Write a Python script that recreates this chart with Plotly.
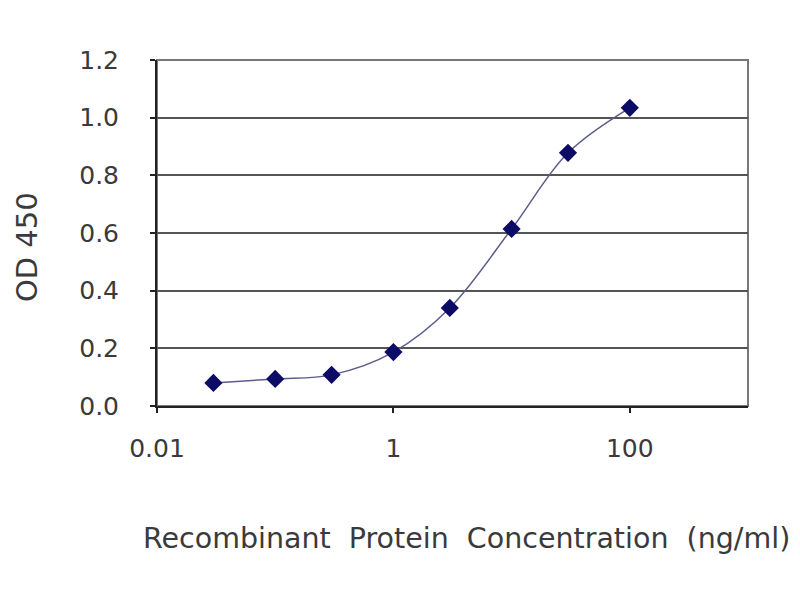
import plotly.graph_objects as go

concentration = [0.03, 0.1, 0.3, 1, 3, 10, 30, 100]
od450 = [0.080, 0.094, 0.108, 0.187, 0.340, 0.614, 0.878, 1.034]

x_tickvals = [0.01, 1, 100]
x_ticktext = ["0.01", "1", "100"]
y_tickvals = [0.0, 0.2, 0.4, 0.6, 0.8, 1.0, 1.2]
y_ticktext = ["0.0", "0.2", "0.4", "0.6", "0.8", "1.0", "1.2"]

x_title = "Recombinant  Protein  Concentration  (ng/ml)"
y_title = "OD 450"

FONT = "DejaVu Sans"
TICK_COLOR = "#3a3a3a"

# plot area target: x 157..748, y 60..406
L, T, W, H = 149, 52, 591, 346

fig = go.Figure()
fig.add_trace(go.Scatter(
    x=concentration, y=od450,
    mode="lines+markers",
    line=dict(color="#5c5c8c", width=1.5, shape="spline", smoothing=1.0),
    marker=dict(symbol="diamond", size=14, color="#0c0c66",
                line=dict(width=0)),
    showlegend=False,
))

fig.update_layout(
    width=800, height=600,
    margin=dict(l=L, r=800 - L - W, t=T, b=600 - T - H),
    paper_bgcolor="white", plot_bgcolor="white",
    font=dict(family=FONT, color=TICK_COLOR),
    xaxis=dict(
        type="log", range=[-2, 3],
        tickvals=x_tickvals, ticktext=x_ticktext,
        showgrid=False, zeroline=False,
        showline=True, linecolor="#222222", linewidth=2,
        ticks="outside", ticklen=5, tickcolor="#222222", tickwidth=1.5,
        tickfont=dict(size=25, family=FONT, color=TICK_COLOR),
        ticklabelstandoff=14,
    ),
    yaxis=dict(
        range=[0, 1.2],
        tickvals=y_tickvals, ticktext=y_ticktext,
        showgrid=True, gridcolor="#555555", gridwidth=2,
        zeroline=False,
        showline=True, linecolor="#222222", linewidth=2,
        ticks="outside", ticklen=5, tickcolor="#222222", tickwidth=1.5,
        tickfont=dict(size=25, family=FONT, color=TICK_COLOR),
        ticklabelstandoff=26,
    ),
    shapes=[dict(type="rect", xref="paper", yref="paper", x0=0, x1=1, y0=0, y1=1,
                 line=dict(color="#777777", width=2), layer="below")],
    annotations=[
        dict(text=x_title, xref="paper", yref="paper",
             x=(466 - 157) / W, y=-(538 - 406) / H,
             xanchor="center", yanchor="middle", showarrow=False,
             font=dict(size=28.5, family=FONT, color=TICK_COLOR)),
        dict(text=y_title, xref="paper", yref="paper",
             x=-(157 - 27) / W, y=(406 - 247) / H,
             xanchor="center", yanchor="middle", showarrow=False, textangle=-90,
             borderpad=0,
             font=dict(size=29, family=FONT, color=TICK_COLOR)),
    ],
)

fig.write_html("out.html")
